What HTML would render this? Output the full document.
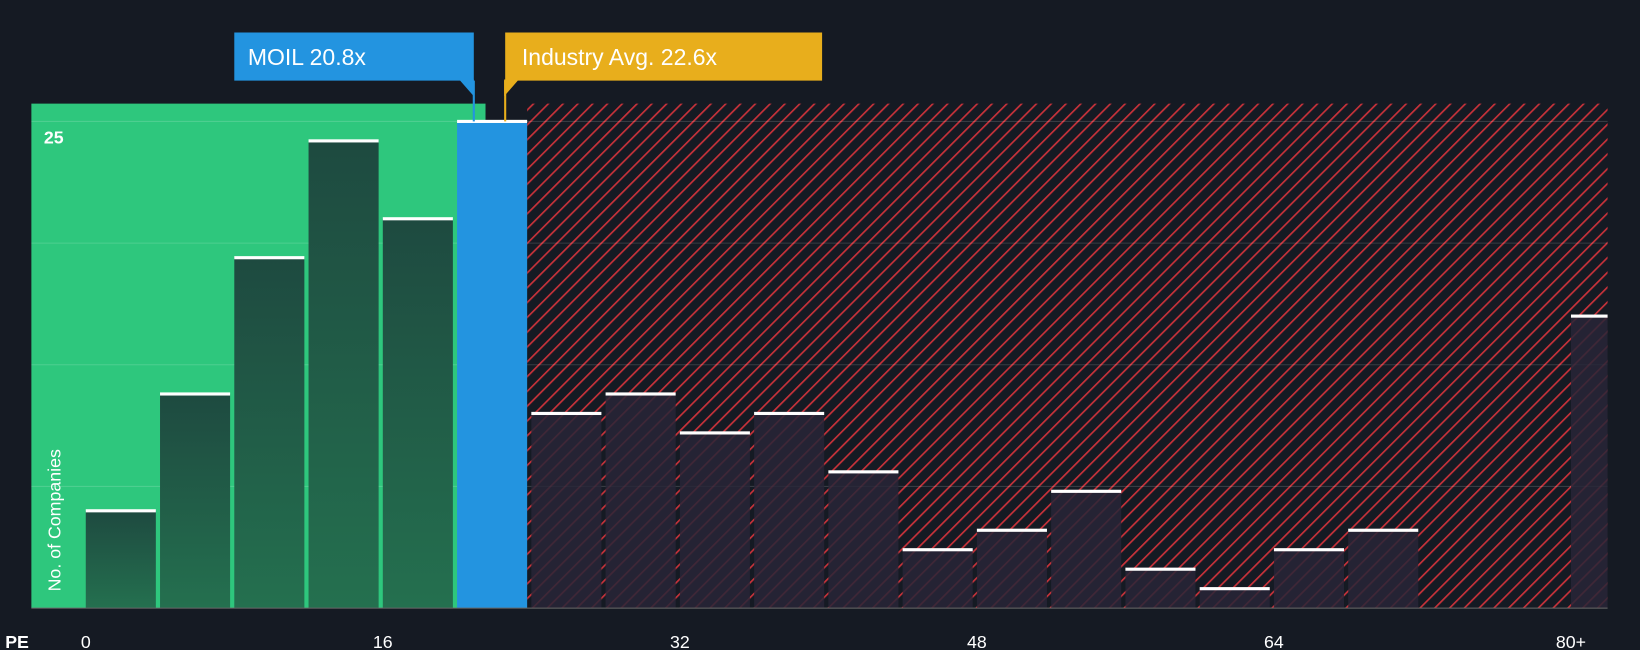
<!DOCTYPE html>
<html><head><meta charset="utf-8"><style>
html,body{margin:0;padding:0;background:#151a23;}
svg{display:block;font-family:"Liberation Sans",sans-serif;}
</style></head><body>
<svg width="1640" height="650" viewBox="0 0 1568 621" preserveAspectRatio="none">
<defs>
<pattern id="hatch" patternUnits="userSpaceOnUse" width="10" height="10" patternTransform="rotate(45)">
<rect width="10" height="10" fill="#151a23"/><rect width="1.6" height="10" fill="#c8323a"/>
</pattern>
<linearGradient id="gbar" x1="0" y1="0" x2="0" y2="1"><stop offset="0" stop-color="#1e4a40"/><stop offset="1" stop-color="#24704f"/></linearGradient>
</defs>
<rect width="1568" height="621" fill="#151a23"/>
<g id="chart"></g>
</svg>
<script>
const binStarts=[0,4,8,12,16,20,24,28,32,36,40,44,48,52,56,60,64,68,72,76,80];
const counts=[5,11,18,24,20,25,10,11,9,10,7,3,4,6,2,1,3,4,0,0,15];
const xTicks=[0,16,32,48,64];
const xTickLabels=["0","16","32","48","64"];
const companyPE=20.8, industryPE=22.6;
const NS="http://www.w3.org/2000/svg";
const g=document.getElementById('chart');
const x=v=>82+v*17.75, y=v=>581-v*18.6;
const L=30,R=1537,T=99,B=581;
function el(t,a,p){const e=document.createElementNS(NS,t);for(const k in a)e.setAttribute(k,a[k]);(p||g).appendChild(e);return e;}
let e;
const greenEnd=x(companyPE)+13;
e=el('rect',{x:L,y:T,width:greenEnd-L,height:B-T,fill:'#2ec77d'});


e=el('rect',{x:x(24)-4,y:T,width:R-x(24)+4,height:B-T,fill:'url(#hatch)'});


for(let k=0;k<5;k++){const gy=116+k*116.25;
e=el('line',{x1:L,x2:R,y1:gy,y2:gy,stroke:'rgba(255,255,255,0.15)','stroke-width':1});

}
binStarts.forEach((s,i)=>{const v=counts[i];if(!v)return;
const x0=x(s),w=(s===80?R-x(s):67);
const blue=s===20,green=s+4<=companyPE;
e=el('rect',{x:x0,y:y(v),width:w,height:B-y(v),fill:blue?'#2394e0':green?'url(#gbar)':'rgba(40,38,55,0.85)'});


e=el('rect',{x:x0,y:y(v)-1.5,width:w,height:3,fill:'#fff'});

});
e=el('line',{x1:L,x2:R,y1:B,y2:B,stroke:'#666','stroke-width':1});


xTicks.forEach((t,i)=>{e=el('text',{x:x(t),y:619,fill:'#fff','font-size':17,'text-anchor':'middle'});e.textContent=xTickLabels[i];

});
e=el('text',{x:x(80),y:619,fill:'#fff','font-size':17,'text-anchor':'middle'});e.textContent='80+';


e=el('text',{x:5,y:619,fill:'#fff','font-size':17,'font-weight':'bold'});e.textContent='PE';


e=el('text',{x:42,y:137,fill:'#fff','font-size':17,'font-weight':'bold'});e.textContent='25';


e=el('text',{x:58,y:565,fill:'#fff','font-size':17,transform:'rotate(-90 58 565)'});e.textContent='No. of Companies';


const cx=453;
e=el('line',{x1:cx,x2:cx,y1:77,y2:116,stroke:'#2394e0','stroke-width':2});


e=el('path',{d:`M224 31 H453 V77 H224 Z`,fill:'#2394e0'});


e=el('path',{d:`M${cx-14} 76 L${cx} 76 L${cx} 92 Z`,fill:'#2394e0'});


e=el('text',{x:237,y:62,fill:'#fff','font-size':22});e.textContent='MOIL '+companyPE+'x';


const ix=483;
e=el('line',{x1:ix,x2:ix,y1:77,y2:116,stroke:'#e8ae1c','stroke-width':2});


e=el('path',{d:`M483 31 H786 V77 H483 Z M${ix-1} 76 L${ix+13} 76 L${ix-1} 92 Z`,fill:'#e8ae1c'});


e=el('text',{x:499,y:62,fill:'#fff','font-size':22});e.textContent='Industry Avg. '+industryPE+'x';


</script>
</body></html>
